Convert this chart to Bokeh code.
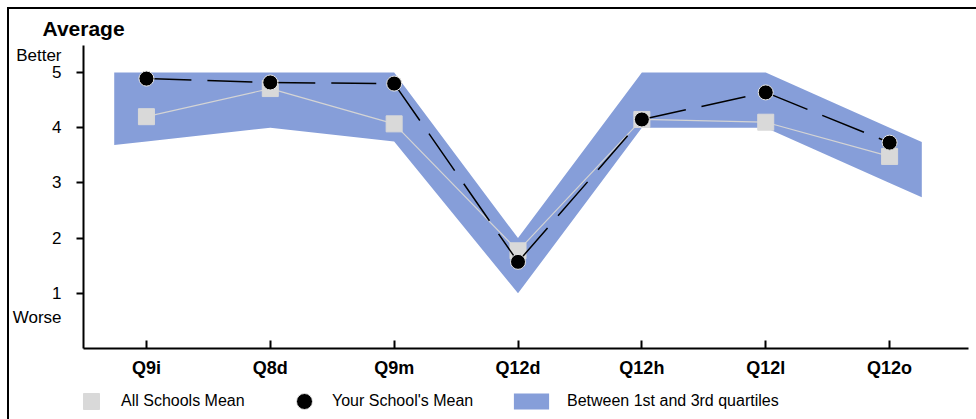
from bokeh.plotting import figure
from bokeh.layouts import column
from bokeh.models import FixedTicker, Legend, LegendItem, LinearAxis, Range1d
from bokeh.embed import file_html
from bokeh.resources import INLINE

# ---- data ----
categories = ["Q9i", "Q8d", "Q9m", "Q12d", "Q12h", "Q12l", "Q12o"]
all_schools_mean = [4.20, 4.71, 4.07, 1.77, 4.15, 4.10, 3.48]
your_school_mean = [4.89, 4.82, 4.80, 1.57, 4.15, 4.64, 3.73]
quartile_1 = [3.75, 4.0, 3.75, 1.0, 4.0, 4.0, 3.0]
quartile_3 = [5.0, 5.0, 5.0, 2.0, 5.0, 5.0, 4.0]
y_ticks = [1, 2, 3, 4, 5]
side_labels = ["Better", "Worse"]
side_label_values = [5.31, 0.56]

FONT = "Liberation Sans"
BAND = "#869ED9"
SQUARE = "#d9d9d9"
NAN = float("nan")

n = len(categories)
xs = list(range(n))
ext = 0.26  # band extends a little beyond the first and last category


def extrap(vals, i0, i1, t):
    return vals[i0] + (vals[i0] - vals[i1]) * t


upper = [extrap(quartile_3, 0, 1, ext)] + quartile_3 + [extrap(quartile_3, -1, -2, ext)]
lower = [extrap(quartile_1, 0, 1, ext)] + quartile_1 + [extrap(quartile_1, -1, -2, ext)]
bx = [xs[0] - ext] + xs + [xs[-1] + ext]
band_x = bx + bx[::-1]
band_y = upper + lower[::-1]

x_start, x_end = -0.508, 6.637
y_start, y_end = 0.0, 5.49

W = 967
H_MAIN = 375
H_LEG = 35

p = figure(width=W, height=H_MAIN, x_range=Range1d(x_start, x_end), y_range=Range1d(y_start, y_end),
           output_backend="svg", toolbar_location=None,
           min_border_left=71, min_border_right=8, min_border_top=36, min_border_bottom=36)
p.outline_line_color = None
p.xgrid.visible = False
p.ygrid.visible = False
p.background_fill_color = "white"
p.border_fill_color = "white"

p.title.text = "Average"
p.title.align = "left"
p.title.offset = -41
p.title.text_font = FONT
p.title.text_font_size = "21px"
p.title.text_font_style = "bold"
p.title.text_color = "black"
p.title.standoff = 11

# axes
p.xaxis.ticker = FixedTicker(ticks=xs)
p.xaxis.major_label_overrides = {i: c for i, c in enumerate(categories)}
p.xaxis.major_tick_in = 8
p.xaxis.major_tick_out = 0
p.xaxis.minor_tick_line_color = None
p.xaxis.axis_line_width = 2
p.xaxis.major_tick_line_width = 2
p.xaxis.major_label_text_font = FONT
p.xaxis.major_label_text_font_size = "18px"
p.xaxis.major_label_text_font_style = "bold"
p.xaxis.major_label_text_color = "black"
p.xaxis.major_label_standoff = 9

# main y axis: line and tick marks only; its labels are carried by the axis beside it
p.yaxis.ticker = FixedTicker(ticks=y_ticks)
p.yaxis.major_label_overrides = {t: "" for t in y_ticks}
p.yaxis.major_tick_in = 0
p.yaxis.major_tick_out = 7
p.yaxis.minor_tick_line_color = None
p.yaxis.axis_line_width = 2
p.yaxis.major_tick_line_width = 2
p.yaxis.major_label_standoff = 0

label_ticks = y_ticks + side_label_values
label_texts = {t: str(t) for t in y_ticks}
label_texts.update(dict(zip(side_label_values, side_labels)))
label_axis = LinearAxis(ticker=FixedTicker(ticks=label_ticks),
                        major_label_overrides=label_texts,
                        axis_line_color=None, major_tick_line_color=None,
                        minor_tick_line_color=None, major_tick_in=0, major_tick_out=0,
                        major_label_standoff=15, major_label_text_font=FONT,
                        major_label_text_font_size="17px", major_label_text_color="black")
p.add_layout(label_axis, "left")

# glyphs
p.patch(band_x, band_y, fill_color=BAND, line_color=None)
p.line(xs, all_schools_mean, line_color="#d4d4d4", line_width=1.2)
p.scatter(xs, all_schools_mean, marker="square", size=16, fill_color=SQUARE, line_color=SQUARE)
seg_xs = [[xs[i], xs[i + 1]] for i in range(n - 1)]
seg_ys = [[your_school_mean[i], your_school_mean[i + 1]] for i in range(n - 1)]
p.multi_line(seg_xs, seg_ys, line_color="black", line_width=1.5, line_dash="45 16")
p.scatter(xs, your_school_mean, marker="circle", size=15, fill_color="black",
          line_color="#e6e6e6", line_width=1)

# ---- legend strip (legend-only renderers hold no drawable point) ----
lg = figure(width=W, height=H_LEG, x_range=Range1d(0, 1), y_range=Range1d(0, 1),
            x_axis_type=None, y_axis_type=None, output_backend="svg", toolbar_location=None,
            min_border=0)
lg.outline_line_color = None
lg.background_fill_color = "white"
lg.border_fill_color = "white"

r_sq = lg.scatter([NAN], [NAN], marker="square", size=16, fill_color=SQUARE, line_color=SQUARE)
r_ci = lg.scatter([NAN], [NAN], marker="circle", size=15, fill_color="black",
                  line_color="#e6e6e6", line_width=1)
r_band = lg.patch([NAN, NAN, NAN], [NAN, NAN, NAN], fill_color=BAND, line_color=None)


def make_legend(label, renderer, loc, gw, gh, standoff):
    return Legend(items=[LegendItem(label=label, renderers=[renderer])], location=loc,
                  glyph_width=gw, glyph_height=gh, padding=0, spacing=0, margin=0,
                  label_standoff=standoff, border_line_color=None, background_fill_alpha=0,
                  label_text_font=FONT, label_text_font_size="16px", label_text_color="black")


lg.add_layout(make_legend("All Schools Mean", r_sq, (-12, -2), 40, 40, 10))
lg.add_layout(make_legend("Your School's Mean", r_ci, (201, -2), 40, 40, 8))
lg.add_layout(make_legend("Between 1st and 3rd quartiles", r_band, (426, 8), 44, 20, 14))

layout = column(p, lg, spacing=0)
layout.styles = {"margin-left": "7px", "margin-top": "7px",
                 "border-top": "2px solid black", "border-left": "2px solid black"}

open("out.html", "w").write(file_html(layout, INLINE))
